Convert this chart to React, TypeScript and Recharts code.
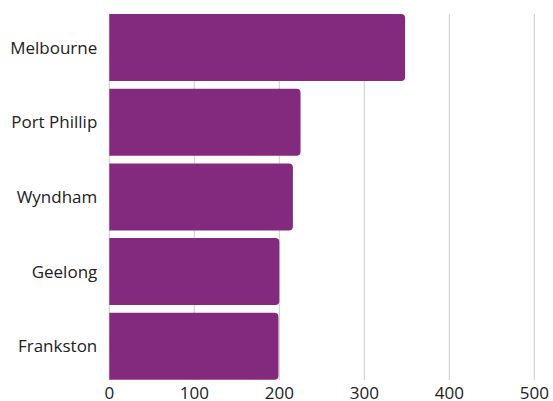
import { BarChart, Bar, XAxis, YAxis, CartesianGrid } from 'recharts';

// --- Data ---

const councils = ['Melbourne', 'Port Phillip', 'Wyndham', 'Geelong', 'Frankston'];
const counts = [348, 225, 216, 200, 199];
const xTicks = [0, 100, 200, 300, 400, 500];

const data = councils.map((name, i) => ({ name, value: counts[i] }));

const tickStyle = { fill: '#222', fontSize: 17, fontFamily: '"Open Sans", sans-serif' };

export default function App() {
  return (
    <div style={{ position: 'absolute', left: 0, top: 0, width: 553, height: 401 }}>
      <BarChart
        width={553}
        height={401}
        data={data}
        layout="vertical"
        margin={{ top: 10.3, right: 18.7, left: 0, bottom: 0 }}
        barCategoryGap={3.75}
      >
        <CartesianGrid horizontal={false} stroke="#cccccc" y={14} height={366} />
        <XAxis
          type="number"
          domain={[0, 500]}
          ticks={xTicks}
          axisLine={false}
          tickLine={false}
          tickSize={0}
          tickMargin={3}
          height={17.3}
          tick={tickStyle}
          interval={0}
        />
        <YAxis
          type="category"
          dataKey="name"
          width={109.3}
          axisLine={false}
          tickLine={false}
          tickSize={0}
          tickMargin={12}
          tick={tickStyle}
          interval={0}
        />
        <Bar dataKey="value" fill="#832a7e" radius={[0, 4, 4, 0]} isAnimationActive={false} />
      </BarChart>
    </div>
  );
}
